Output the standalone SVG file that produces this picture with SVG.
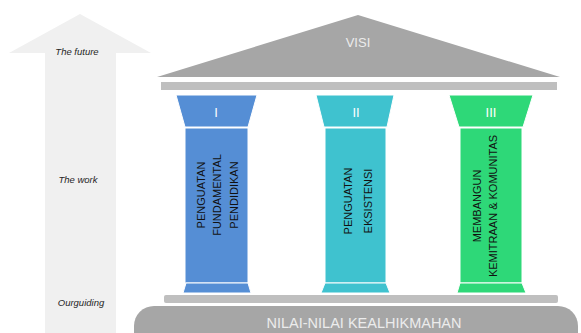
<svg xmlns="http://www.w3.org/2000/svg" width="581" height="333" viewBox="0 0 581 333">
  <style>
    .side { font-family: "Liberation Sans", Arial, sans-serif; font-size: 9.5px; font-style: italic; fill: #262626; text-anchor: middle; }
    .num { font-family: "Liberation Sans", Arial, sans-serif; font-size: 13px; fill: #ffffff; text-anchor: middle; }
    .pillar { font-family: "Liberation Sans", Arial, sans-serif; font-size: 11px; fill: #111111; text-anchor: middle; }
    .band { font-family: "Liberation Sans", Arial, sans-serif; fill: #ececec; text-anchor: middle; }
    .grey { fill: #a6a6a6; }
    .light { fill: #bfbfbf; }
    .blue { fill: #558ed5; stroke: #ffffff; stroke-width: 1; }
    .teal { fill: #3fc2cf; stroke: #ffffff; stroke-width: 1; }
    .green { fill: #2ed878; stroke: #ffffff; stroke-width: 1; }
  </style>

  <rect width="581" height="333" fill="#ffffff"/>

  <!-- rising arrow on the left -->
  <g id="arrow">
    <polygon points="80,14 151,53 116,53 116,333 45,333 45,53 9,53" fill="#f0f0f0"/>
    <text class="side" x="77" y="55">The future</text>
    <text class="side" x="78" y="183">The work</text>
    <text class="side" x="81" y="306">Ourguiding</text>
  </g>

  <!-- roof -->
  <g id="roof">
    <polygon class="grey" points="358,15 560,77 157,77"/>
    <text class="band" x="358" y="47" font-size="13">VISI</text>
    <rect class="light" x="161" y="82" width="396" height="8"/>
  </g>

  <!-- pillar I -->
  <g id="pillar-1">
    <polygon class="blue" points="176,95 257,95 248,127 185,127"/>
    <rect class="blue" x="185" y="128" width="63" height="155"/>
    <polygon class="blue" points="186,283 248,283 251,293 183,293"/>
    <text class="num" x="216" y="117">I</text>
    <g transform="translate(216,195) rotate(-90)">
      <text class="pillar" x="0" y="-11.5">PENGUATAN</text>
      <text class="pillar" x="0" y="5">FUNDAMENTAL</text>
      <text class="pillar" x="0" y="21.5">PENDIDIKAN</text>
    </g>
  </g>

  <!-- pillar II -->
  <g id="pillar-2">
    <polygon class="teal" points="316,95 394,95 387,127 324,127"/>
    <rect class="teal" x="325" y="128" width="61" height="155"/>
    <polygon class="teal" points="325,283 386,283 390,293 321,293"/>
    <text class="num" x="356" y="117">II</text>
    <g transform="translate(357,201) rotate(-90)">
      <text class="pillar" x="0" y="-5" font-size="12.5">PENGUATAN</text>
      <text class="pillar" x="0" y="14.5" font-size="12.5">EKSISTENSI</text>
    </g>
  </g>

  <!-- pillar III -->
  <g id="pillar-3">
    <polygon class="green" points="449,95 533,95 523,127 459,127"/>
    <rect class="green" x="460" y="128" width="62" height="155"/>
    <polygon class="green" points="460,283 522,283 526,293 457,293"/>
    <text class="num" x="491" y="117">III</text>
    <g transform="translate(485,206) rotate(-90)">
      <text class="pillar" x="0" y="-4.5">MEMBANGUN</text>
      <text class="pillar" x="0" y="11.5">KEMITRAAN &amp; KOMUNITAS</text>
    </g>
  </g>

  <!-- foundation -->
  <g id="foundation">
    <rect class="light" x="164" y="295" width="394" height="8" rx="2"/>
    <rect class="grey" x="134" y="306" width="444" height="50" rx="20"/>
    <text class="band" x="364" y="328" font-size="14.5">NILAI-NILAI KEALHIKMAHAN</text>
  </g>
</svg>
